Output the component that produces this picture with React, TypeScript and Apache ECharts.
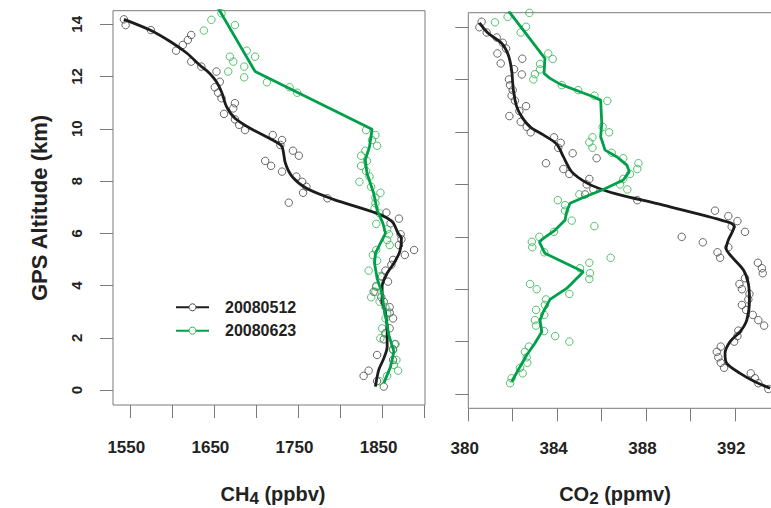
import React, { useEffect, useRef } from 'react';
import * as echarts from 'echarts';

const FONT = '"Liberation Sans", Arial, Helvetica, sans-serif';

const ALT_TICKS = [0, 2, 4, 6, 8, 10, 12, 14];
const CH4_TICKS = [1550, 1600, 1650, 1700, 1750, 1800, 1850, 1900];
const CH4_LABELS = [1550, 1650, 1750, 1850];
const CO2_TICKS = [380, 382, 384, 386, 388, 390, 392, 394];
const CO2_LABELS = [380, 384, 388, 392];
const DATES = ['20080512', '20080623'];

// [CH4 ppbv, altitude km]
const CH4_0512_OBS: [number, number][] = [
  [1543, 14.19], [1545, 13.97], [1575, 13.78], [1623, 13.59], [1619, 13.4], [1613, 13.21],
  [1605, 12.99], [1623, 12.57], [1635, 12.38], [1653, 12.19], [1657, 11.8], [1651, 11.59],
  [1655, 11.38], [1659, 11.17], [1675, 10.98], [1673, 10.78], [1662, 10.57], [1675, 10.36],
  [1680, 10.15], [1687, 9.95], [1720, 9.76], [1731, 9.57], [1729, 9.38], [1744, 9.16],
  [1751, 8.97], [1711, 8.77], [1718, 8.58], [1731, 8.36], [1748, 8.17], [1755, 7.97],
  [1760, 7.78], [1756, 7.55], [1785, 7.34], [1739, 7.17], [1855, 6.79], [1870, 6.56],
  [1860, 6.38], [1872, 5.96], [1873, 5.77], [1870, 5.55], [1888, 5.36], [1877, 5.17],
  [1863, 4.98], [1861, 4.79], [1854, 4.57], [1850, 4.34], [1857, 4.15], [1843, 3.96],
  [1840, 3.76], [1849, 3.55], [1852, 3.38], [1859, 3.17], [1859, 2.96], [1863, 2.74],
  [1859, 2.36], [1854, 2.17], [1852, 1.94], [1865, 1.75], [1863, 1.56], [1844, 1.34],
  [1863, 1.15], [1834, 0.74], [1828, 0.54], [1844, 0.34], [1852, 0.13],
];
const CH4_0512_FIT: [number, number][] = [
  [1543, 14.19], [1574, 13.78], [1598, 13.34], [1618, 12.89], [1633, 12.44], [1645, 12.12],
  [1653, 11.8], [1659, 11.42], [1665, 10.85], [1675, 10.4], [1693, 10.02], [1723, 9.51],
  [1731, 9.31], [1735, 8.68], [1743, 8.17], [1760, 7.72], [1792, 7.3], [1844, 6.76],
  [1862, 6.44], [1869, 6.0], [1873, 5.81], [1871, 5.3], [1864, 4.85], [1856, 4.47],
  [1850, 3.96], [1850, 3.45], [1854, 2.94], [1856, 2.3], [1856, 1.66], [1852, 1.21],
  [1846, 0.77], [1842, 0.13],
];
const CH4_0623_OBS: [number, number][] = [
  [1659, 14.42], [1647, 14.17], [1675, 13.97], [1638, 13.76], [1689, 12.99], [1699, 12.76],
  [1669, 12.76], [1673, 12.57], [1686, 12.38], [1667, 12.19], [1686, 11.97], [1713, 11.78],
  [1740, 11.59], [1749, 11.38], [1831, 9.95], [1842, 9.76], [1838, 9.57], [1844, 9.35],
  [1830, 9.16], [1825, 8.97], [1832, 8.77], [1825, 8.58], [1831, 8.38], [1835, 8.17],
  [1823, 7.97], [1837, 7.78], [1848, 7.55], [1842, 7.36], [1842, 7.15], [1841, 6.96],
  [1847, 6.76], [1843, 6.36], [1856, 6.15], [1858, 5.96], [1856, 5.74], [1859, 5.55],
  [1843, 5.36], [1839, 5.17], [1844, 4.95], [1834, 4.57], [1848, 4.36], [1843, 3.98],
  [1842, 3.76], [1837, 3.55], [1847, 3.38], [1854, 3.17], [1856, 2.94], [1854, 2.74],
  [1850, 2.36], [1854, 2.17], [1848, 1.98], [1866, 1.76], [1863, 1.53], [1867, 1.15],
  [1864, 0.96], [1869, 0.74], [1856, 0.54], [1847, 0.34],
];
const CH4_0623_FIT: [number, number][] = [
  [1655, 14.62], [1699, 12.19], [1838, 9.98], [1835, 9.31], [1830, 8.81], [1832, 8.3],
  [1840, 7.53], [1844, 6.89], [1851, 6.38], [1854, 6.0], [1848, 5.62], [1842, 5.23],
  [1841, 4.85], [1844, 4.28], [1850, 3.7], [1852, 3.19], [1855, 2.68], [1858, 2.11],
  [1864, 1.47], [1860, 0.89], [1852, 0.26],
];

// [CO2 ppmv, altitude km]
const CO2_0512_OBS: [number, number][] = [
  [380.6, 14.21], [380.5, 14.0], [380.83, 13.8], [381.28, 13.61], [381.55, 13.41], [381.7, 13.19],
  [381.31, 13.0], [382.43, 12.8], [381.46, 12.62], [382.06, 12.4], [382.41, 12.2], [381.83, 12.01],
  [381.88, 11.79], [382.0, 11.6], [381.95, 11.39], [382.1, 11.2], [382.6, 10.99], [382.3, 10.8],
  [381.85, 10.61], [382.36, 10.39], [382.63, 10.2], [382.81, 9.99], [383.86, 9.8], [384.16, 9.59],
  [384.05, 9.4], [384.7, 9.19], [385.78, 9.0], [383.5, 8.81], [384.28, 8.59], [384.55, 8.4],
  [385.45, 8.21], [385.33, 8.0], [385.63, 7.81], [385.26, 7.62], [387.61, 7.4], [391.11, 7.0],
  [391.71, 6.79], [392.12, 6.6], [391.86, 6.39], [392.46, 6.19], [389.61, 6.0], [390.56, 5.79],
  [391.71, 5.6], [391.22, 5.41], [391.34, 5.2], [393.04, 5.01], [393.22, 4.8], [393.26, 4.61],
  [392.46, 4.42], [392.21, 4.2], [392.32, 4.0], [392.66, 3.82], [392.61, 3.61], [392.32, 3.4],
  [392.51, 3.21], [392.81, 3.02], [393.06, 2.82], [393.32, 2.61], [392.16, 2.42], [392.12, 2.21],
  [391.97, 2.0], [391.37, 1.81], [391.19, 1.61], [391.26, 1.4], [391.37, 1.19], [391.52, 1.0],
  [392.72, 0.79], [392.91, 0.6], [393.06, 0.41], [393.51, 0.19],
];
const CO2_0512_FIT: [number, number][] = [
  [380.5, 14.17], [380.9, 13.77], [381.5, 13.39], [381.8, 12.94], [381.95, 12.37], [382.03, 11.6],
  [382.18, 10.97], [382.41, 10.58], [382.78, 10.2], [383.38, 9.89], [383.98, 9.54], [384.28, 9.06],
  [384.66, 8.48], [385.33, 8.06], [386.08, 7.79], [386.83, 7.6], [388.78, 7.21], [391.64, 6.58],
  [391.97, 6.39], [391.71, 5.88], [391.61, 5.56], [391.86, 5.24], [392.39, 4.73], [392.61, 4.22],
  [392.66, 3.59], [392.54, 2.82], [392.24, 2.38], [391.79, 2.0], [391.56, 1.55], [391.64, 1.17],
  [392.24, 0.79], [392.91, 0.47], [393.59, 0.22],
];
const CO2_0623_OBS: [number, number][] = [
  [382.75, 14.55], [381.77, 14.4], [381.2, 14.19], [382.6, 14.02], [382.36, 13.8], [383.6, 13.0],
  [383.8, 12.79], [383.23, 12.6], [383.23, 12.39], [383.0, 12.21], [382.93, 12.01], [384.21, 11.79],
  [384.95, 11.6], [385.68, 11.39], [386.26, 11.19], [386.05, 10.2], [386.34, 9.99], [385.59, 9.8],
  [385.45, 9.61], [385.59, 9.4], [386.46, 9.21], [386.98, 9.0], [387.66, 8.81], [387.61, 8.59],
  [387.28, 8.4], [386.98, 8.21], [386.83, 8.0], [387.16, 7.81], [385.0, 7.62], [384.03, 7.4],
  [384.36, 7.21], [384.36, 7.0], [384.66, 6.62], [385.68, 6.41], [383.86, 6.19], [383.2, 6.0],
  [382.86, 5.81], [382.88, 5.6], [383.42, 5.41], [386.41, 5.2], [385.45, 5.01], [385.03, 4.8],
  [385.48, 4.61], [385.45, 4.39], [382.78, 4.2], [383.08, 4.0], [384.55, 3.82], [383.5, 3.61],
  [383.45, 3.4], [383.05, 3.21], [383.42, 3.02], [383.0, 2.82], [383.05, 2.61], [383.41, 2.4],
  [383.91, 2.21], [384.55, 2.0], [382.73, 1.81], [382.55, 1.61], [382.63, 1.4], [382.66, 1.19],
  [382.33, 1.0], [382.45, 0.79], [381.95, 0.6], [381.88, 0.41],
];
const CO2_0623_FIT: [number, number][] = [
  [381.82, 14.62], [383.45, 12.81], [383.41, 12.24], [383.68, 12.05], [384.13, 11.83], [385.03, 11.54],
  [385.63, 11.35], [385.96, 11.22], [386.01, 10.33], [385.96, 9.82], [386.16, 9.31], [386.68, 9.06],
  [387.14, 8.74], [387.25, 8.49], [386.98, 8.17], [386.08, 7.81], [385.26, 7.53], [384.58, 7.28],
  [384.43, 6.96], [384.36, 6.64], [383.91, 6.26], [383.38, 5.94], [383.2, 5.81], [383.45, 5.37],
  [385.18, 4.67], [384.43, 4.03], [383.68, 3.61], [383.38, 3.14], [383.23, 2.82], [383.31, 2.38],
  [383.0, 1.94], [382.63, 1.49], [382.33, 1.04], [381.95, 0.47],
];

const BLACK_LINE = '#1c1c1c';
const BLACK_PT = '#454545';
const GREEN_LINE = '#00a04b';
const GREEN_PT = '#2cb24e';
const BOX = '#7a7a7a';
const TEXT = '#222';

function obsSeries(name: string, data: [number, number][], idx: number, color: string) {
  return {
    type: 'scatter', name, xAxisIndex: idx, yAxisIndex: idx, data,
    symbol: 'circle', symbolSize: 7.5, z: 2,
    itemStyle: { color: 'rgba(0,0,0,0)', borderColor: color, borderWidth: 1 },
  };
}
function fitSeries(name: string, data: [number, number][], idx: number, color: string, smooth: number | boolean) {
  return {
    type: 'line', name, xAxisIndex: idx, yAxisIndex: idx, data,
    showSymbol: false, symbol: 'none', smooth, z: 3,
    lineStyle: { color, width: 2.8 },
  };
}

export default function App() {
  const ref = useRef<HTMLDivElement>(null);
  useEffect(() => {
    if (!ref.current) return;
    const chart = echarts.init(ref.current, undefined, { renderer: 'svg' });
    const labelStyle = { fontFamily: FONT, fontWeight: 'bold' as const, color: TEXT };
    const plain = (v: number) => String(v);
    const xAxisBase = {
      type: 'value' as const,
      axisLine: { show: false, onZero: false },
      splitLine: { show: false },
    };
    const sub = { fontSize: 17, fontWeight: 'bold', fontFamily: FONT, fill: TEXT, padding: [9, 0, 0, 0], lineHeight: 18 };
    const main = { fontSize: 20, fontWeight: 'bold', fontFamily: FONT, fill: TEXT, lineHeight: 22 };
    const option = {
      animation: false,
      backgroundColor: '#fff',
      grid: [
        { left: 113, top: 10.7, width: 312, height: 394.3, show: true, borderColor: BOX, borderWidth: 1, backgroundColor: 'rgba(0,0,0,0)' },
        { left: 468.3, top: 12.7, width: 322, height: 395.6, show: true, borderColor: BOX, borderWidth: 1, backgroundColor: 'rgba(0,0,0,0)' },
      ],
      xAxis: [
        {
          ...xAxisBase, gridIndex: 0, min: 1530, max: 1901,
          axisTick: { show: true, length: 13, customValues: CH4_TICKS, lineStyle: { color: BOX } },
          axisLabel: { customValues: CH4_LABELS, formatter: plain, margin: 34, fontSize: 17, padding: [0, 7, 0, 0], ...labelStyle },
        },
        {
          ...xAxisBase, gridIndex: 1, min: 380, max: 394.5,
          axisTick: { show: true, length: 13, customValues: CO2_TICKS, lineStyle: { color: BOX } },
          axisLabel: { customValues: CO2_LABELS, formatter: plain, margin: 32, fontSize: 17, padding: [0, 7, 0, 0], ...labelStyle },
        },
      ],
      yAxis: [
        {
          ...xAxisBase, gridIndex: 0, min: -0.574, max: 14.52,
          axisTick: { show: true, length: 13, customValues: ALT_TICKS, lineStyle: { color: BOX } },
          axisLabel: { customValues: ALT_TICKS, formatter: plain, rotate: 90, margin: 29, fontSize: 15, ...labelStyle },
        },
        {
          ...xAxisBase, gridIndex: 1, min: -0.546, max: 14.557,
          axisTick: { show: true, length: 13, customValues: ALT_TICKS, lineStyle: { color: BOX } },
          axisLabel: { show: false },
        },
      ],
      series: [
        obsSeries('CH4 ' + DATES[0], CH4_0512_OBS, 0, BLACK_PT),
        obsSeries('CH4 ' + DATES[1], CH4_0623_OBS, 0, GREEN_PT),
        fitSeries('CH4 fit ' + DATES[0], CH4_0512_FIT, 0, BLACK_LINE, 0.3),
        fitSeries('CH4 fit ' + DATES[1], CH4_0623_FIT, 0, GREEN_LINE, false),
        obsSeries('CO2 ' + DATES[0], CO2_0512_OBS, 1, BLACK_PT),
        obsSeries('CO2 ' + DATES[1], CO2_0623_OBS, 1, GREEN_PT),
        fitSeries('CO2 fit ' + DATES[0], CO2_0512_FIT, 1, BLACK_LINE, 0.3),
        fitSeries('CO2 fit ' + DATES[1], CO2_0623_FIT, 1, GREEN_LINE, false),
      ],
      graphic: [
        {
          type: 'text', x: 39, y: 208, rotation: Math.PI / 2,
          style: { text: 'GPS Altitude (km)', align: 'center', verticalAlign: 'middle', font: `bold 22px ${FONT}`, fill: TEXT },
        },
        {
          type: 'text', x: 273, y: 493.5,
          style: {
            text: '{a|CH}{s|4}{a| (ppbv)}', align: 'center', verticalAlign: 'middle', fill: TEXT,
            rich: { a: main, s: sub },
          },
        },
        {
          type: 'text', x: 615, y: 494,
          style: {
            text: '{a|CO}{s|2}{a| (ppmv)}', align: 'center', verticalAlign: 'middle', fill: TEXT,
            rich: { a: main, s: sub },
          },
        },
        { type: 'line', shape: { x1: 176, y1: 307.3, x2: 209, y2: 307.3 }, style: { stroke: BLACK_LINE, lineWidth: 2 } },
        { type: 'circle', shape: { cx: 192.5, cy: 307.3, r: 3.5 }, style: { fill: '#fff', stroke: BLACK_PT, lineWidth: 1 } },
        { type: 'text', x: 225, y: 307.3, style: { text: DATES[0], align: 'left', verticalAlign: 'middle', font: `bold 16px ${FONT}`, fill: TEXT } },
        { type: 'line', shape: { x1: 176, y1: 330.7, x2: 209, y2: 330.7 }, style: { stroke: GREEN_LINE, lineWidth: 2 } },
        { type: 'circle', shape: { cx: 192.5, cy: 330.7, r: 3.5 }, style: { fill: '#fff', stroke: GREEN_PT, lineWidth: 1 } },
        { type: 'text', x: 225, y: 330.7, style: { text: DATES[1], align: 'left', verticalAlign: 'middle', font: `bold 16px ${FONT}`, fill: TEXT } },
      ],
    };
    chart.setOption(option as any);
    return () => chart.dispose();
  }, []);
  return (
    <div style={{ position: 'fixed', left: 0, top: 0, width: 771, height: 508, overflow: 'hidden', background: '#fff' }}>
      <div ref={ref} style={{ width: 800, height: 508 }} />
    </div>
  );
}
